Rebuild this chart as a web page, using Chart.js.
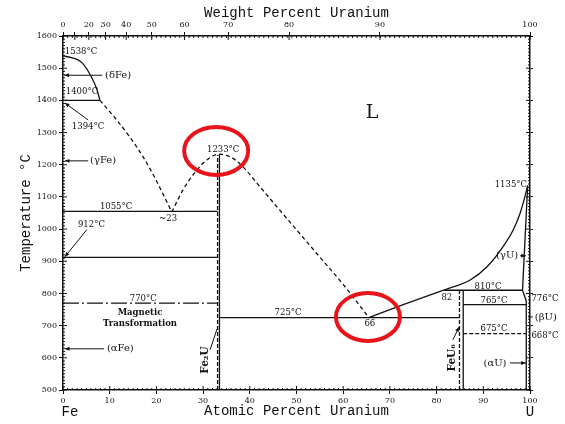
<!DOCTYPE html>
<html>
<head>
<meta charset="utf-8">
<script src="https://cdn.jsdelivr.net/npm/chart.js@4.4.0/dist/chart.umd.min.js"></script>
<style>
  html, body { margin: 0; padding: 0; background: #fff; }
</style>
</head>
<body>
<canvas id="phaseChart" width="565" height="424"></canvas>
<script>
// Fe-U phase diagram, points as [atomic % U, temperature °C]
const weightTicks = [0, 10, 20, 30, 40, 50, 60, 70, 80, 90, 100];
const weightTickLabels = ['0', '', '20', '30', '40', '50', '60', '70', '80', '90', '100'];

const feLiquidus = [[0, 1538], [2, 1532], [4, 1518], [6, 1475], [7.3, 1432], [7.9, 1400]];
const deltaPeritectic = [[0, 1400], [7.9, 1400]];
const liquidusToEutectic = [[7.9, 1400], [11, 1348], [14, 1292], [17, 1228], [20, 1150], [23.3, 1053]];
const fe2uLiquidus = [[23.3, 1053], [25.7, 1122], [28.7, 1184], [30.8, 1215], [33.4, 1233], [35, 1229], [36.5, 1219],
  [38, 1201], [39.5, 1178], [41, 1152], [45, 1083], [50, 998], [55, 913], [60, 828], [65.5, 725]];
const fe2uDashed = [[33.1, 500], [33.1, 1230]];
const fe2uSolid = [[33.5, 500], [33.5, 1233]];
const eutectic1055 = [[0, 1055], [33.1, 1055]];
const gammaAlpha912 = [[0, 912], [33.1, 912]];
const magnetic770 = [[0, 770], [33.1, 770]];
const eutectic725 = [[33.5, 725], [84.9, 725]];
const eutecticTo82 = [[65.5, 725], [73, 766], [81.5, 810]];
const uLiquidus = [[81.5, 810], [87.2, 842], [90.8, 883], [94.2, 945], [96.4, 997], [97.9, 1050], [98.9, 1100], [99.5, 1135]];
const peritectic810 = [[81.5, 810], [98.4, 810]];
const feu6Dashed = [[84.9, 500], [84.9, 810]];
const feu6Solid = [[85.7, 500], [85.7, 810]];
const eutectoid765 = [[85.7, 765], [99.2, 765]];
const eutectoid675 = [[85.7, 675], [99.2, 675]];
const uSolvus = [[99.5, 1135], [98.4, 810], [99.2, 776], [99.2, 500]];

// text and arrows, in the same data units
const notes = [
  { text: '1538°C', at: [0.4, 1550], align: 'left' },
  { text: '(δFe)', at: [9.0, 1478], align: 'left', size: 10 },
  { text: '1400°C', at: [0.6, 1426], align: 'left' },
  { text: '1394°C', at: [1.9, 1317], align: 'left' },
  { text: '(γFe)', at: [5.8, 1212], align: 'left', size: 10 },
  { text: '1055°C', at: [7.9, 1069], align: 'left' },
  { text: '~23', at: [22.5, 1032] },
  { text: '912°C', at: [3.2, 1013], align: 'left' },
  { text: '770°C', at: [14.3, 783], align: 'left' },
  { text: 'Magnetic', at: [16.5, 740], bold: true },
  { text: 'Transformation', at: [16.5, 706], bold: true },
  { text: '(αFe)', at: [9.4, 628], align: 'left', size: 10 },
  { text: '1233°C', at: [34.3, 1246] },
  { text: '725°C', at: [48.2, 740] },
  { text: '66', at: [65.7, 705] },
  { text: 'L', at: [66.2, 1361], size: 19 },
  { text: '82', at: [82.2, 786] },
  { text: '810°C', at: [91, 820] },
  { text: '765°C', at: [92.3, 777] },
  { text: '675°C', at: [92.3, 690] },
  { text: '1135°C', at: [95.9, 1137] },
  { text: '(γU)', at: [95.1, 917], size: 10 },
  { text: '776°C', at: [103.2, 783] },
  { text: '(βU)', at: [103.4, 727], size: 10 },
  { text: '668°C', at: [103.2, 668] },
  { text: '(αU)', at: [92.5, 584], size: 10 },
  { text: 'Fe₂U', at: [30.4, 593], rotate: true, bold: true, size: 10.5 },
  { text: 'FeU₆', at: [83.3, 600], rotate: true, bold: true, size: 10.5 },
  { text: 'Fe', at: [1.5, 432], mono: true },
  { text: 'U', at: [100, 432], mono: true }
];

const arrows = [
  { from: [8.4, 1478], to: [0.3, 1478], head: true },
  { from: [5.4, 1339], to: [0.4, 1392], head: true },
  { from: [5.4, 1212], to: [0.4, 1212], head: true },
  { from: [5.1, 998], to: [0.4, 914], head: true },
  { from: [8.8, 628], to: [0.4, 628], head: true },
  { from: [31.5, 625], to: [33.0, 690], head: false },
  { from: [83.5, 656], to: [84.8, 696], head: true },
  { from: [97.9, 917], to: [99.1, 917], head: true },
  { from: [100.6, 727], to: [99.6, 727], head: false },
  { from: [95.7, 584], to: [99.1, 584], head: true }
];

const circled = [[32.8, 1243], [65.3, 727]];

function wtToAt(w) {
  const u = w / 238.03, fe = (100 - w) / 55.845;
  return 100 * u / (u + fe);
}

function line(points, dash, curved) {
  return {
    data: points.map(([x, y]) => ({ x, y })),
    showLine: true,
    borderColor: '#111',
    borderWidth: 1.3,
    borderDash: dash || [],
    pointRadius: 0,
    cubicInterpolationMode: curved ? 'monotone' : 'default',
    tension: curved ? 0.4 : 0,
    fill: false
  };
}

const decorations = {
  id: 'decorations',
  afterDraw(chart) {
    const { ctx, chartArea, scales: { x, y } } = chart;
    const px = v => x.getPixelForValue(v);
    const py = v => y.getPixelForValue(v);
    ctx.save();
    ctx.strokeStyle = '#111';
    ctx.fillStyle = '#111';
    ctx.lineWidth = 1;

    // minor ticks on all four sides
    ctx.beginPath();
    for (let v = 0; v <= 100; v++) {
      const len = v % 10 === 0 ? 4 : 2;
      ctx.moveTo(px(v), chartArea.bottom); ctx.lineTo(px(v), chartArea.bottom - len);
      ctx.moveTo(px(v), chartArea.top); ctx.lineTo(px(v), chartArea.top + 2);
    }
    weightTicks.forEach(w => {
      ctx.moveTo(px(wtToAt(w)), chartArea.top); ctx.lineTo(px(wtToAt(w)), chartArea.top + 4);
    });
    for (let t = 500; t <= 1600; t += 10) {
      const len = t % 100 === 0 ? 4 : 2;
      ctx.moveTo(chartArea.left, py(t)); ctx.lineTo(chartArea.left + len, py(t));
      ctx.moveTo(chartArea.right, py(t)); ctx.lineTo(chartArea.right - len, py(t));
    }
    ctx.stroke();

    // arrows
    arrows.forEach(a => {
      const x1 = px(a.from[0]), y1 = py(a.from[1]);
      const x2 = px(a.to[0]), y2 = py(a.to[1]);
      ctx.beginPath(); ctx.moveTo(x1, y1); ctx.lineTo(x2, y2); ctx.stroke();
      if (a.head) {
        const ang = Math.atan2(y2 - y1, x2 - x1);
        ctx.beginPath();
        ctx.moveTo(x2, y2);
        ctx.lineTo(x2 - 5 * Math.cos(ang - 0.4), y2 - 5 * Math.sin(ang - 0.4));
        ctx.lineTo(x2 - 5 * Math.cos(ang + 0.4), y2 - 5 * Math.sin(ang + 0.4));
        ctx.closePath(); ctx.fill();
      }
    });

    // labels
    ctx.textBaseline = 'middle';
    notes.forEach(n => {
      const size = n.size || (n.mono ? 14 : 8.5);
      const family = n.mono ? '"Liberation Mono"' : '"DejaVu Serif"';
      ctx.font = (n.bold ? 'bold ' : '') + size + 'px ' + family;
      ctx.textAlign = n.align || 'center';
      const xx = px(n.at[0]), yy = py(n.at[1]);
      if (n.rotate) {
        ctx.save();
        ctx.translate(xx, yy);
        ctx.rotate(-Math.PI / 2);
        ctx.fillText(n.text, 0, 0);
        ctx.restore();
      } else {
        ctx.fillText(n.text, xx, yy);
      }
    });

    // red highlight rings
    ctx.strokeStyle = '#e8141b';
    ctx.lineWidth = 4;
    circled.forEach(([cx, cy]) => {
      ctx.beginPath();
      ctx.ellipse(px(cx), py(cy), 32, 24, 0, 0, Math.PI * 2);
      ctx.stroke();
    });
    ctx.restore();
  }
};

Chart.defaults.font.family = '"DejaVu Serif"';
Chart.defaults.color = '#111';

const axisTitleFont = { family: '"Liberation Mono"', size: 14 };
const tickFont = { family: '"DejaVu Serif"', size: 8 };

new Chart(document.getElementById('phaseChart'), {
  type: 'scatter',
  data: {
    datasets: [
      line(feLiquidus, null, true),
      line(deltaPeritectic),
      line(liquidusToEutectic, [4, 3], true),
      line(fe2uLiquidus, [4, 3], true),
      line(fe2uDashed, [4, 2]),
      line(fe2uSolid),
      line(eutectic1055),
      line(gammaAlpha912),
      line(magnetic770, [16, 3, 2, 3]),
      line(eutectic725),
      line(eutecticTo82, null, true),
      line(uLiquidus, null, true),
      line(peritectic810),
      line(feu6Dashed, [4, 2]),
      line(feu6Solid),
      line(eutectoid765),
      line(eutectoid675, [4, 2]),
      line(uSolvus)
    ]
  },
  options: {
    responsive: false,
    animation: false,
    layout: { padding: 0 },
    plugins: { legend: { display: false }, tooltip: { enabled: false } },
    scales: {
      x: {
        type: 'linear', position: 'bottom', min: 0, max: 100,
        ticks: { stepSize: 10, font: tickFont, padding: 2, maxRotation: 0, callback: v => String(v) },
        grid: { drawOnChartArea: false, tickLength: 4, color: '#111' },
        border: { color: '#111', width: 1.5 },
        title: { display: true, text: 'Atomic Percent Uranium', font: axisTitleFont, padding: { top: 0, bottom: 4 } },
        afterFit: s => { s.height = 34; }
      },
      x2: {
        type: 'linear', position: 'top', min: 0, max: 100,
        afterBuildTicks: s => { s.ticks = weightTicks.map(w => ({ value: wtToAt(w) })); },
        ticks: { font: tickFont, padding: 2, autoSkip: false, maxRotation: 0, callback: (v, i) => weightTickLabels[i] },
        grid: { drawOnChartArea: false, tickLength: 4, color: '#111' },
        border: { color: '#111', width: 1.5 },
        title: { display: true, text: 'Weight Percent Uranium', font: axisTitleFont, padding: { top: 5, bottom: 0 } },
        afterFit: s => { s.height = 36; }
      },
      y: {
        type: 'linear', position: 'left', min: 500, max: 1600,
        ticks: { stepSize: 100, font: tickFont, padding: 2, callback: v => String(v) },
        grid: { drawOnChartArea: false, tickLength: 4, color: '#111' },
        border: { color: '#111', width: 1.5 },
        title: { display: true, text: 'Temperature °C', font: axisTitleFont, padding: { top: 18, bottom: 0 } },
        afterFit: s => { s.width = 63; }
      },
      y2: {
        type: 'linear', position: 'right', min: 500, max: 1600,
        ticks: { display: false, stepSize: 100 },
        grid: { drawOnChartArea: false, tickLength: 3, color: '#111' },
        border: { color: '#111', width: 1.5 },
        afterFit: s => { s.width = 35; }
      }
    }
  },
  plugins: [decorations]
});
</script>
</body>
</html>
